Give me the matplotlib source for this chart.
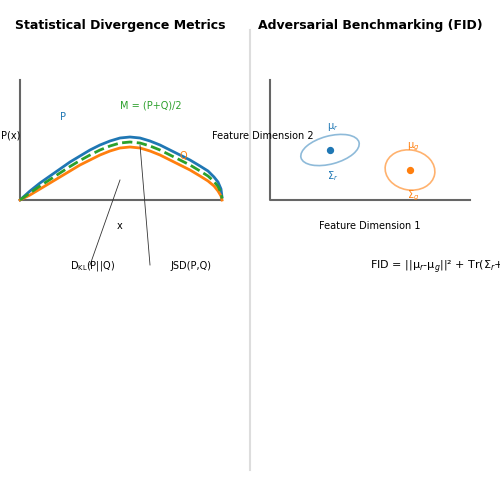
import matplotlib.pyplot as plt
from matplotlib.patches import Ellipse

# curve samples (diagram pixel space)
curve_x = [20, 30, 40, 50, 60, 70, 80, 90, 100, 110, 120, 130, 140, 150, 160,
           170, 180, 190, 200, 208, 214, 218, 221, 222]
p_y = [200, 191, 183, 176, 169, 162, 156, 150, 145, 141, 138, 137, 138, 141, 145,
       150, 155, 160, 166, 171, 177, 182, 189, 197]
q_y = [200, 195, 189, 183, 177, 171, 165, 160, 155, 151, 148, 147, 148, 151, 155,
       160, 165, 170, 176, 181, 186, 191, 196, 200]
m_y = [(a + b) / 2 for a, b in zip(p_y, q_y)]

real_mu = (330, 150)
gen_mu = (410, 170)

BLUE = "#1f77b4"
ORANGE = "#ff7f0e"
GREEN = "#2ca02c"
GRAY = "#666666"

fig = plt.figure(figsize=(5, 5), dpi=100)
ax = fig.add_axes([0, 0, 1, 1])
ax.set_xlim(0, 500)
ax.set_ylim(500, 0)
ax.axis("off")

ax.plot([250, 250], [30, 470], color="#dddddd", lw=1.5)

# left panel
ax.text(120, 25, "Statistical Divergence Metrics", ha="center", va="center",
        fontsize=9, fontweight="bold")
ax.plot([20, 20, 222], [80, 200, 200], color=GRAY, lw=1.5)
ax.plot(curve_x, p_y, color=BLUE, lw=2)
ax.plot(curve_x, q_y, color=ORANGE, lw=2)
ax.plot(curve_x, m_y, color=GREEN, lw=2, ls="--")
ax.text(60, 117, "P", color=BLUE, fontsize=7, ha="left", va="center")
ax.text(180, 156, "Q", color=ORANGE, fontsize=7, ha="left", va="center")
ax.text(120, 106, "M = (P+Q)/2", color=GREEN, fontsize=7, ha="left", va="center")
ax.text(1, 136, "P(x)", fontsize=7, ha="left", va="center")
ax.text(120, 226, "x", fontsize=7, ha="center", va="center")
ax.plot([90, 120], [265, 180], color="#333333", lw=0.6)
ax.plot([150, 140], [265, 145], color="#333333", lw=0.6)
ax.text(70, 266, r"D$_{\mathrm{KL}}$(P||Q)", fontsize=7, ha="left", va="center")
ax.text(170, 266, "JSD(P,Q)", fontsize=7, ha="left", va="center")

# right panel
ax.text(370, 25, "Adversarial Benchmarking (FID)", ha="center", va="center",
        fontsize=9, fontweight="bold")
ax.plot([270, 270, 470], [80, 200, 200], color=GRAY, lw=1.5)
ax.add_patch(Ellipse(real_mu, 60, 28, angle=-15, fill=False, ec=BLUE, lw=1.2, alpha=0.5))
ax.add_patch(Ellipse(gen_mu, 50, 40, angle=10, fill=False, ec=ORANGE, lw=1.2, alpha=0.6))
ax.scatter(*real_mu, s=18, color=BLUE, zorder=3)
ax.scatter(*gen_mu, s=18, color=ORANGE, zorder=3)
ax.text(327, 127, "μ$_r$", color=BLUE, fontsize=7, ha="left", va="center")
ax.text(327, 176, "Σ$_r$", color=BLUE, fontsize=7, ha="left", va="center")
ax.text(407, 147, "μ$_g$", color=ORANGE, fontsize=7, ha="left", va="center")
ax.text(407, 196, "Σ$_g$", color=ORANGE, fontsize=7, ha="left", va="center")
ax.text(212, 136, "Feature Dimension 2", fontsize=7, ha="left", va="center")
ax.text(370, 226, "Feature Dimension 1", fontsize=7, ha="center", va="center")
ax.text(370, 266, "FID = ||μ$_r$-μ$_g$||² + Tr(Σ$_r$+Σ$_g$-2(Σ$_r$Σ$_g$)$^{1/2}$)",
        fontsize=8, ha="left", va="center", clip_on=True)

fig.savefig("out.png", dpi=100)
